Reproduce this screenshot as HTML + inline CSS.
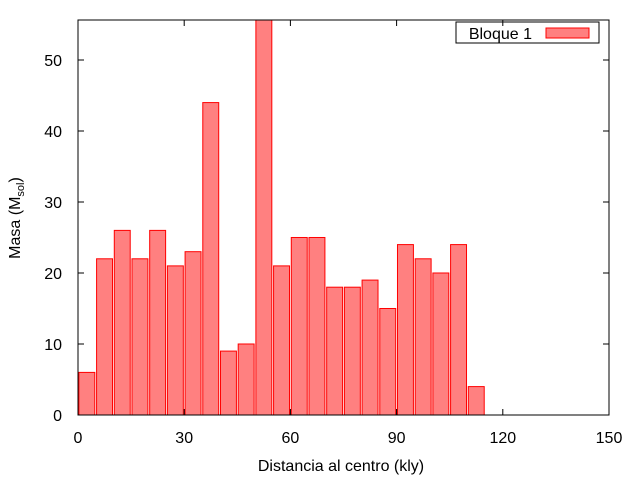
<!DOCTYPE html>
<html><head><meta charset="utf-8"><style>
body{margin:0;background:#fff;font-family:"Liberation Sans",sans-serif}
svg text{font-family:"Liberation Sans",sans-serif;font-size:16px;fill:#000}
</style></head><body>
<svg id="c" width="640" height="480">
<g id="marks"></g>
<rect x="78" y="20" width="531" height="395" fill="none" stroke="#000" stroke-width="1"/>
<g id="axes"></g>
<text x="341" y="471" text-anchor="middle">Distancia al centro (kly)</text>
<text transform="translate(20,218) rotate(-90)" text-anchor="middle">Masa (M<tspan font-size="11" dy="4">sol</tspan><tspan dy="-4">)</tspan></text>
<g>
<text x="532" y="39" text-anchor="end">Bloque 1</text>
<rect x="546" y="28" width="43" height="10" fill="#ff8080" stroke="#ff0000"/>
<rect x="456" y="22" width="143" height="21" fill="none" stroke="#000"/>
</g>
</svg>
<script>
const centers=[2.5,7.5,12.5,17.5,22.5,27.5,32.5,37.5,42.5,47.5,52.5,57.5,62.5,67.5,72.5,77.5,82.5,87.5,92.5,97.5,102.5,107.5,112.5];
const values=[6,22,26,22,26,21,23,44,9,10,56,21,25,25,18,18,19,15,24,22,20,24,4];
const xTicks=[0,30,60,90,120,150];
const yTicks=[0,10,20,30,40,50];
const X0=78,X1=609,Y0=415,Y1=20,XMAX=150,YMAX=55.63;
const sx=v=>X0+v/XMAX*(X1-X0);
const sy=v=>Y0-Math.min(v,YMAX)/YMAX*(Y0-Y1);
const NS="http://www.w3.org/2000/svg";
const marks=document.getElementById('marks'),axes=document.getElementById('axes');
centers.forEach((c,i)=>{
 const r=document.createElementNS(NS,'rect');
 const a=sx(c-2.25),b=sx(c+2.25);
 r.setAttribute('x',a);r.setAttribute('width',b-a);
 r.setAttribute('y',sy(values[i]));r.setAttribute('height',Y0-sy(values[i]));
 r.setAttribute('fill','#ff8080');r.setAttribute('stroke','#ff0000');
 
 
 marks.appendChild(r);
});
xTicks.forEach(t=>{
 const x=sx(t);
 const l=document.createElementNS(NS,'path');
 l.setAttribute('d',`M${x},${Y0}v-6M${x},${Y1}v6`);l.setAttribute('stroke','#000');
 
 
 axes.appendChild(l);
 const tx=document.createElementNS(NS,'text');
 tx.setAttribute('x',x);tx.setAttribute('y',443);tx.setAttribute('text-anchor','middle');tx.textContent=t;
 
 
 axes.appendChild(tx);
});
yTicks.forEach(t=>{
 const y=sy(t);
 const l=document.createElementNS(NS,'path');
 l.setAttribute('d',`M${X0},${y}h6M${X1},${y}h-6`);l.setAttribute('stroke','#000');
 
 
 axes.appendChild(l);
 const tx=document.createElementNS(NS,'text');
 tx.setAttribute('x',62);tx.setAttribute('y',y+6);tx.setAttribute('text-anchor','end');tx.textContent=t;
 
 
 axes.appendChild(tx);
});
</script>
</body></html>
